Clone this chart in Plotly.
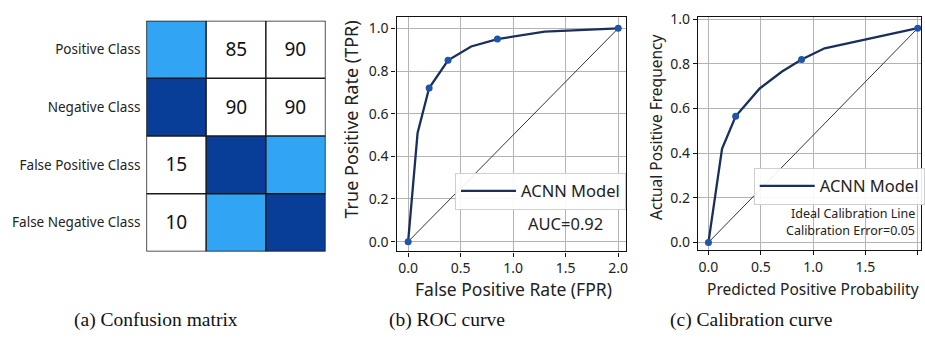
import plotly.graph_objects as go

# ---------------- data ----------------
cm_rows = ["Positive Class", "Negative Class", "False Positive Class", "False Negative Class"]
cm_cols = [0, 1, 2]
cm_text = [["", "85", "90"],
           ["", "90", "90"],
           ["15", "", ""],
           ["10", "", ""]]
cm_shade = [[1, 0, 0],
            [2, 0, 0],
            [0, 2, 1],
            [0, 1, 2]]

roc_fpr = [0.0, 0.09, 0.2, 0.38, 0.6, 0.85, 1.3, 2.0]
roc_tpr = [0.0, 0.51, 0.72, 0.85, 0.915, 0.95, 0.985, 1.0]
roc_mark_fpr = [0.0, 0.2, 0.38, 0.85, 2.0]
roc_mark_tpr = [0.0, 0.72, 0.85, 0.95, 1.0]
roc_diag_x = [0.0, 2.0]
roc_diag_y = [0.0, 1.0]

cal_pred = [0.0, 0.13, 0.26, 0.49, 0.70, 0.89, 1.11, 1.51, 2.0]
cal_act = [0.0, 0.42, 0.565, 0.69, 0.765, 0.82, 0.87, 0.91, 0.96]
cal_mark_pred = [0.0, 0.26, 0.89, 2.0]
cal_mark_act = [0.0, 0.565, 0.82, 0.96]
cal_diag_x = [0.0, 2.0]
cal_diag_y = [0.0, 0.96]

tick_vals_x = [0.0, 0.5, 1.0, 1.5, 2.0]
tick_vals_y = [0.0, 0.2, 0.4, 0.6, 0.8, 1.0]

captions = ["(a) Confusion matrix", "(b) ROC curve", "(c) Calibration curve"]

# ---------------- style ----------------
W, H = 925, 344
FONT = "Noto Sans"
LIGHT = "#31a5f3"
DARK = "#083d98"
LINE = "#1b2f5c"
MARK = "#1f55a8"
GRID = "#b3b3b3"
TXT = "#222"


def px(x):
    return x / W


def py(y):
    return 1 - y / H


fig = go.Figure()

# ---- (a) confusion matrix ----
fig.add_trace(go.Heatmap(
    z=cm_shade, x=cm_cols, y=list(range(len(cm_rows))),
    text=cm_text, texttemplate="%{text}",
    textfont=dict(size=19, color="#111", family=FONT),
    colorscale=[[0, "white"], [0.5, LIGHT], [1, DARK]],
    zmin=0, zmax=2, showscale=False, hoverinfo="skip",
    xaxis="x", yaxis="y"))

shapes = []
for i in range(len(cm_cols) + 1):
    shapes.append(dict(type="line", xref="x", yref="y", x0=i - 0.5, x1=i - 0.5,
                       y0=-0.5, y1=len(cm_rows) - 0.5, line=dict(color="#1a1a1a", width=1.5)))
for j in range(len(cm_rows) + 1):
    shapes.append(dict(type="line", xref="x", yref="y", x0=-0.5, x1=len(cm_cols) - 0.5,
                       y0=j - 0.5, y1=j - 0.5, line=dict(color="#1a1a1a", width=1.5)))

# ---- (b) ROC ----
fig.add_trace(go.Scatter(x=roc_diag_x, y=roc_diag_y, mode="lines",
                         line=dict(color="#333", width=1), showlegend=False,
                         xaxis="x2", yaxis="y2", hoverinfo="skip"))
fig.add_trace(go.Scatter(x=roc_fpr, y=roc_tpr, mode="lines", name="ACNN Model",
                         line=dict(color=LINE, width=2.3), legend="legend",
                         xaxis="x2", yaxis="y2"))
fig.add_trace(go.Scatter(x=roc_mark_fpr, y=roc_mark_tpr, mode="markers",
                         marker=dict(color=MARK, size=7), showlegend=False,
                         xaxis="x2", yaxis="y2"))

# ---- (c) Calibration ----
fig.add_trace(go.Scatter(x=cal_diag_x, y=cal_diag_y, mode="lines",
                         line=dict(color="#333", width=1), showlegend=False,
                         xaxis="x3", yaxis="y3", hoverinfo="skip"))
fig.add_trace(go.Scatter(x=cal_pred, y=cal_act, mode="lines", name="ACNN Model",
                         line=dict(color=LINE, width=2.3), legend="legend2",
                         xaxis="x3", yaxis="y3"))
fig.add_trace(go.Scatter(x=cal_mark_pred, y=cal_mark_act, mode="markers",
                         marker=dict(color=MARK, size=7), showlegend=False,
                         xaxis="x3", yaxis="y3"))

tickfont = dict(family=FONT, size=14, color=TXT)
common_x = dict(showgrid=True, gridcolor=GRID, gridwidth=1.2, zeroline=False,
                showline=True, linecolor="#111", linewidth=1.3, mirror=True,
                ticks="outside", ticklen=4, tickcolor="#111", tickfont=tickfont,
                tickvals=tick_vals_x, tickformat=".1f")
common_y = dict(common_x, tickvals=tick_vals_y)


def ann(text, x, y, size, family=FONT, color=TXT, angle=0, xanchor="center"):
    return dict(text=text, x=px(x), y=py(y), xref="paper", yref="paper",
                showarrow=False, xanchor=xanchor, yanchor="middle", textangle=angle,
                font=dict(family=family, size=size, color=color))


annotations = [
    ann("False Positive Rate (FPR)", 516, 289, 17.5),
    ann("True Positive Rate (TPR)", 353, 114, 18, angle=-90),
    ann("Predicted Positive Probability", 817, 289, 15.5),
    ann("Actual Positive Frequency", 659, 123, 15.5, angle=-90),
    ann("AUC=0.92", 567.5, 221, 16.5),
    ann("Ideal Calibration Line", 921, 211, 12.5, xanchor="right"),
    ann("Calibration Error=0.05", 921, 228.5, 12.5, xanchor="right"),
]
for cap, cx in zip(captions, [157, 449, 754]):
    annotations.append(ann(cap, cx, 320, 19.5, family="Liberation Serif", color="#111"))

legend_style = dict(font=dict(family=FONT, size=16.5, color=TXT),
                    bgcolor="rgba(255,255,255,0.9)", bordercolor="#cfcfcf", borderwidth=1,
                    xanchor="left", yanchor="top", itemwidth=55)

fig.update_layout(
    width=W, height=H, autosize=False,
    margin=dict(l=0, r=0, t=0, b=0),
    paper_bgcolor="white", plot_bgcolor="white",
    font=dict(family=FONT),
    xaxis=dict(domain=[px(147), px(327)], range=[-0.5, 2.5], showgrid=False, zeroline=False,
               showticklabels=False, ticks="", fixedrange=True),
    yaxis=dict(domain=[py(250), py(13)], range=[3.5, -0.5], showgrid=False, zeroline=False,
               tickvals=list(range(len(cm_rows))), ticktext=cm_rows, ticks="",
               tickfont=dict(family=FONT, size=13.5, color=TXT), ticklabelstandoff=5),
    xaxis2=dict(common_x, domain=[px(398.3), px(628.3)], range=[-0.11, 2.07], anchor="y2"),
    yaxis2=dict(common_y, domain=[py(250), py(9.3)], range=[-0.046, 1.053], anchor="x2"),
    xaxis3=dict(common_x, domain=[px(701), 1.0], range=[-0.1, 2.031], anchor="y3"),
    yaxis3=dict(common_y, domain=[py(248.3), py(9.3)], range=[-0.033, 1.01], anchor="x3"),
    legend=dict(legend_style, x=px(457), y=py(169)),
    legend2=dict(legend_style, x=px(757), y=py(164)),
    shapes=shapes,
    annotations=annotations,
)

fig.write_html("out.html", config={"displayModeBar": False},
               post_script="document.body.style.margin='0';")
